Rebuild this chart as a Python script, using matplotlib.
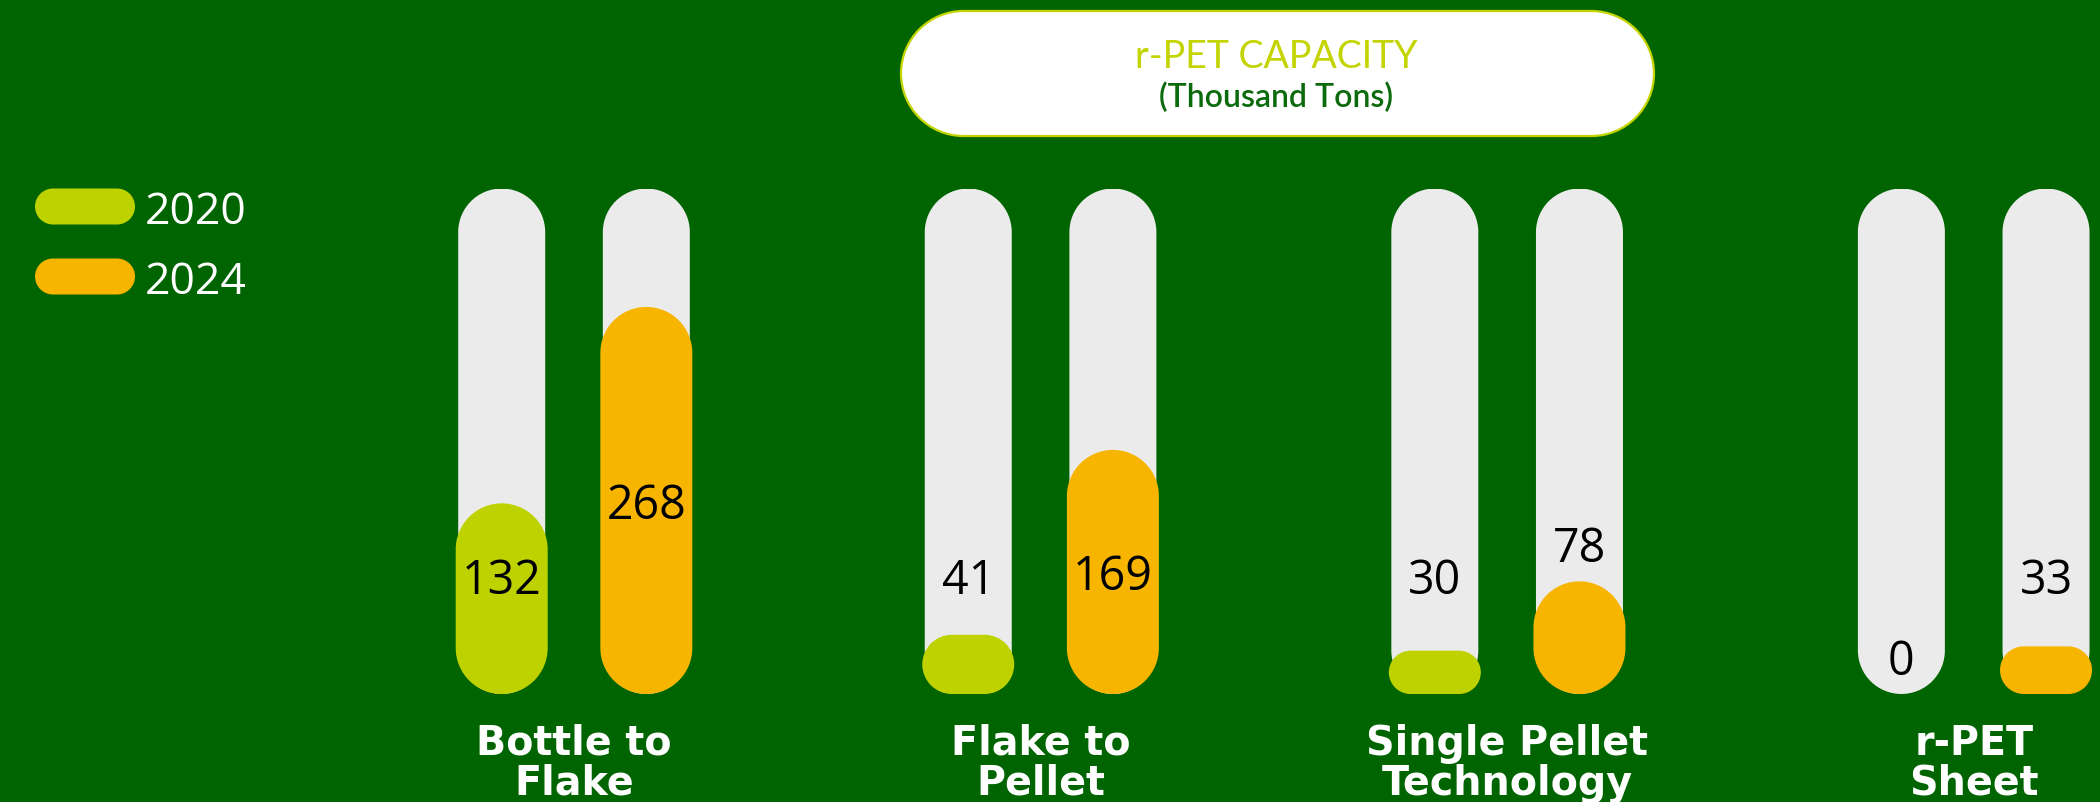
import matplotlib
matplotlib.use("Agg")
import matplotlib.pyplot as plt
import numpy as np
from matplotlib.path import Path
from matplotlib.patches import PathPatch
from matplotlib.transforms import blended_transform_factory

# ---- data -------------------------------------------------------------
categories = ["Bottle to\nFlake", "Flake to\nPellet",
              "Single Pellet\nTechnology", "r-PET\nSheet"]
years = ["2020", "2024"]
capacity_2020 = [132, 41, 30, 0]
capacity_2024 = [268, 169, 78, 33]
scale_max = 350  # full height of each track

title = "r-PET CAPACITY"
subtitle = "(Thousand Tons)"

# ---- style ------------------------------------------------------------
BG = "#006400"
LIME = "#BED200"
ORANGE = "#F7B500"
TRACK = "#EBEBEB"
TITLE_LIME = "#C3D400"
SUB_GREEN = "#0B6A0B"

W, H, DPI = 2100, 803, 100
fig = plt.figure(figsize=(W / DPI, H / DPI), dpi=DPI, facecolor=BG)

# pixel-space layer for the header, legend and category names
deco = fig.add_axes([0, 0, 1, 1])
deco.set_xlim(0, W)
deco.set_ylim(H, 0)
deco.axis("off")

# value axes for the bars: baseline at y=695 px, track top at y=189.5 px
ax = fig.add_axes([0, (H - 695) / H, 1, (695 - 189.5) / H])
ax.set_xlim(-1.2303, 3.2707)
ax.set_ylim(0, scale_max)
ax.axis("off")


def px_per_unit(a):
    p0 = a.transData.transform((0, 0))
    p1 = a.transData.transform((1, 1))
    return abs(p1[0] - p0[0]), abs(p1[1] - p0[1])


def rounded_path(x0, y0, x1, y1, rx, ry):
    """Closed rectangle path with elliptical (rx, ry) corner arcs."""
    verts, codes = [], []
    corners = [(x1 - rx, y0 + ry, -90, 0), (x1 - rx, y1 - ry, 0, 90),
               (x0 + rx, y1 - ry, 90, 180), (x0 + rx, y0 + ry, 180, 270)]
    for cx, cy, t1, t2 in corners:
        arc = Path.arc(t1, t2)
        v = arc.vertices * [rx, ry] + [cx, cy]
        c = list(arc.codes)
        c[0] = Path.MOVETO if not verts else Path.LINETO
        verts.extend(v.tolist())
        codes.extend(c)
    verts.append(verts[0])
    codes.append(Path.CLOSEPOLY)
    return Path(verts, codes)


def capsule_bar(a, xc, value, width_px, color, z):
    if value <= 0:
        return
    sx, sy = px_per_unit(a)
    h_px = value * sy
    r_px = min(width_px, h_px) / 2
    hw = width_px / 2 / sx
    path = rounded_path(xc - hw, 0, xc + hw, value, r_px / sx, r_px / sy)
    a.add_patch(PathPatch(path, facecolor=color, edgecolor="none", zorder=z))


def label_height(v, floor=82, gap=26):
    """Vertical centre of a value label, in data units."""
    if v == 0:
        return gap
    if v >= 100:
        return max(v / 2, floor)
    return max(v + gap, floor)


offset = 0.155
series = [(capacity_2020, LIME, -offset), (capacity_2024, ORANGE, offset)]
sx, sy = px_per_unit(ax)
digit_half = 17.5 / sy

for vals, color, off in series:
    for i, v in enumerate(vals):
        x = i + off
        capsule_bar(ax, x, scale_max, 87, TRACK, 1)
        capsule_bar(ax, x, v, 92, color, 2)
        ax.text(x, label_height(v) - digit_half, str(v), ha="center",
                va="baseline", fontsize=33.5, family="Open Sans",
                color="black", zorder=5)

# category names under each pair of bars
cat_tf = blended_transform_factory(ax.transData, deco.transData)
for i, name in enumerate(categories):
    deco.text(i, 724, name, transform=cat_tf, ha="center", va="top",
              fontsize=28.5, fontweight="bold", family="DejaVu Sans",
              color="white", linespacing=1.0)

# legend
legend_rows = [(years[0], LIME, 207.5), (years[1], ORANGE, 277.5)]
for label, color, yc in legend_rows:
    p = rounded_path(35, yc - 18, 135, yc + 18, 18, 18)
    deco.add_patch(PathPatch(p, facecolor=color, edgecolor="none"))
    deco.text(145, yc + 17, label, ha="left", va="baseline", fontsize=32,
              family="Open Sans", color="white")

# header pill
hdr = rounded_path(901, 12, 1654, 137, 62.5, 62.5)
deco.add_patch(PathPatch(hdr, facecolor="white", edgecolor=TITLE_LIME,
                         linewidth=1.6))
deco.text(1276, 68, title, ha="center", va="baseline", fontsize=27,
          family="Lato", color=TITLE_LIME)
deco.text(1276, 107, subtitle, ha="center", va="baseline", fontsize=23,
          family="Lato", fontweight="semibold", color=SUB_GREEN)

fig.savefig("out.png", dpi=DPI, facecolor=BG)
